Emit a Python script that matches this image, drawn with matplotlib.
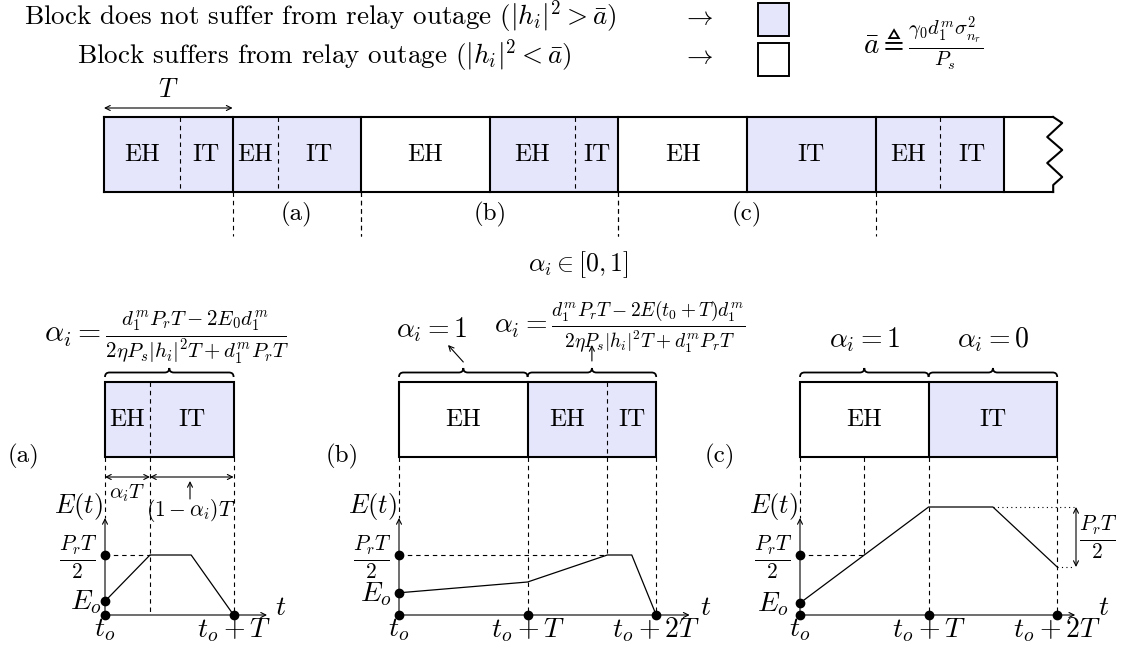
#!/usr/bin/env python3
"""EH / IT block timeline with three energy-evolution cases (a), (b), (c)."""
import matplotlib
matplotlib.use("Agg")
import matplotlib.pyplot as plt
from matplotlib.patches import Rectangle, PathPatch
from matplotlib.path import Path

plt.rcParams["font.family"] = ["cmr10"]
plt.rcParams["mathtext.fontset"] = "cm"
plt.rcParams["axes.unicode_minus"] = False

BLUE = "#e5e5fb"

# top strip: EH fraction of every block and whether the block is in relay outage
TOP_ALPHA = [0.59, 0.35, 1.0, 0.66, 1.0, 0.0, 0.5]
TOP_OUTAGE = [False, False, True, False, True, False, False]
CASE_LABELS = ["(a)", "(b)", "(c)"]
CASE_START = [1, 2, 4]
CASE_LEN = [1, 2, 2]

# lower panels: blocks, then energy curves (t in T, E in units of P_r T / 2)
PANEL_ALPHA = [[0.35], [1.0, 0.62], [1.0, 0.0]]
PANEL_OUTAGE = [[False], [True, False], [True, False]]
CURVE_T = [[0, 0.35, 0.67, 1.0], [0, 1.0, 1.62, 1.81, 2.0], [0, 1.0, 1.5, 2.0]]
CURVE_E = [[0.23, 1.0, 1.0, 0.0], [0.37, 0.55, 1.0, 1.0, 0.0], [0.2, 1.8, 1.8, 0.8]]
HALF_HIT_T = [0.35, 1.62, 0.5]          # where E(t) first reaches P_r T / 2
GUIDES = [[(0.35, 0.0), (1.0, 0.0)],
          [(1.0, 0.0), (1.62, 1.0), (2.0, 0.0)],
          [(0.5, 1.0), (1.0, 0.0), (2.0, 0.0)]]
AXIS_END = [1.26, 2.26, 2.14]
T_LABEL_DX = [14, 16, 28]
EO_LABEL_DX = [-19, -23, -27]

# layout (pixels)
T_PX = 128.6
E_PX = 60.0
TOP_X0, TOP_Y0, TOP_Y1 = 104, 117, 192
PAN_X0 = [105, 399, 800]
PAN_Y0, PAN_Y1 = 382, 457
AX_Y = 615
AX_TOP = 518

fig = plt.figure(figsize=(11.23, 6.49), dpi=100)
ax = fig.add_axes([0, 0, 1, 1])
ax.set_xlim(0, 1123)
ax.set_ylim(649, 0)
ax.axis("off")

DASH = (0, (4, 3.5))


def block_row(x0, y0, y1, alphas, outages, fs):
    for i, (a, out) in enumerate(zip(alphas, outages)):
        x = x0 + i * T_PX
        ax.add_patch(Rectangle((x, y0), T_PX, y1 - y0, fc="white" if out else BLUE,
                               ec="none", zorder=1))
        xs = x + a * T_PX
        if 0 < a < 1:
            ax.plot([xs, xs], [y0, y1], color="k", lw=0.8, ls=DASH, zorder=2)
        ym = (y0 + y1) / 2
        if a > 0:
            ax.text((x + xs) / 2, ym, "EH", ha="center", va="center", fontsize=fs)
        if a < 1:
            ax.text((xs + x + T_PX) / 2, ym, "IT", ha="center", va="center", fontsize=fs)


def brace(x0, x1, yb, amp=4.5):
    xm = (x0 + x1) / 2
    verts = [(x0, yb), (x0, yb - amp), (x0 + amp, yb - amp), (xm - amp, yb - amp),
             (xm, yb - amp), (xm, yb - 2 * amp), (xm, yb - amp), (xm + amp, yb - amp),
             (x1 - amp, yb - amp), (x1, yb - amp), (x1, yb)]
    codes = [Path.MOVETO, Path.CURVE3, Path.CURVE3, Path.LINETO, Path.CURVE3, Path.CURVE3,
             Path.CURVE3, Path.CURVE3, Path.LINETO, Path.CURVE3, Path.CURVE3]
    ax.add_patch(PathPatch(Path(verts, codes), fc="none", ec="k", lw=1.3))


def arrow(p0, p1, style="->", lw=0.8, color="k"):
    ax.annotate("", xy=p1, xytext=p0,
                arrowprops=dict(arrowstyle=style, lw=lw, color=color,
                                shrinkA=0, shrinkB=0, mutation_scale=9))


# ---- legend ----
ax.text(320, 17, r"Block does not suffer from relay outage ($|h_i|^2 > \bar{a}$)",
        ha="center", va="center", fontsize=19.5)
ax.text(324, 56, r"Block suffers from relay outage ($|h_i|^2 < \bar{a}$)",
        ha="center", va="center", fontsize=19.5)
ax.text(698, 17, r"$\rightarrow$", ha="center", va="center", fontsize=19)
ax.text(698, 56, r"$\rightarrow$", ha="center", va="center", fontsize=19)
ax.add_patch(Rectangle((758, 3), 31, 33, fc=BLUE, ec="k", lw=1.4))
ax.add_patch(Rectangle((758, 43), 31, 33, fc="white", ec="k", lw=1.4))
ax.text(923, 44, r"$\bar{a} \triangleq \frac{\gamma_0 d_1^m \sigma_{n_r}^2}{P_s}$",
        ha="center", va="center", fontsize=21)

# ---- top strip ----
block_row(TOP_X0, TOP_Y0, TOP_Y1, TOP_ALPHA, TOP_OUTAGE, 18)
n = len(TOP_ALPHA)
x_end = TOP_X0 + n * T_PX
x_zig = x_end + 49
for y in (TOP_Y0, TOP_Y1):
    ax.plot([TOP_X0, x_zig], [y, y], color="k", lw=1.5, zorder=3)
for i in range(n + 1):
    xb = TOP_X0 + i * T_PX
    ax.plot([xb, xb], [TOP_Y0, TOP_Y1], color="k", lw=1.5, zorder=3)
zx = [0, 9, -6, 9, -6, 9, 0, 0]
zy = [0, 6, 20, 33, 46, 60, 68, 75]
ax.plot([x_zig + d for d in zx], [TOP_Y0 + d for d in zy], color="k", lw=1.5, zorder=3)
arrow((TOP_X0, 108), (TOP_X0 + T_PX, 108), "<->")
ax.text(TOP_X0 + T_PX / 2, 90, r"$T$", ha="center", va="center", fontsize=19)
for lab, s, ln in zip(CASE_LABELS, CASE_START, CASE_LEN):
    xa = TOP_X0 + s * T_PX
    xb = xa + ln * T_PX
    for xv in (xa, xb):
        ax.plot([xv, xv], [TOP_Y1, 236], color="k", lw=0.8, ls=DASH)
    ax.text((xa + xb) / 2, 214, lab, ha="center", va="center", fontsize=18)
ax.text(578, 265, r"$\alpha_i \in [0,1]$", ha="center", va="center", fontsize=18.5)

# ---- lower panels ----
for k in range(3):
    x0 = PAN_X0[k]
    nb = len(PANEL_ALPHA[k])
    block_row(x0, PAN_Y0, PAN_Y1, PANEL_ALPHA[k], PANEL_OUTAGE[k], 18)
    ax.add_patch(Rectangle((x0, PAN_Y0), nb * T_PX, PAN_Y1 - PAN_Y0, fc="none",
                           ec="k", lw=1.5, zorder=3))
    for i in range(1, nb):
        xb = x0 + i * T_PX
        ax.plot([xb, xb], [PAN_Y0, PAN_Y1], color="k", lw=1.5, zorder=3)
    for i in range(nb):
        brace(x0 + i * T_PX, x0 + (i + 1) * T_PX, 377)

    def px(t, x0=x0):
        return x0 + t * T_PX

    def py(e):
        return AX_Y - e * E_PX

    # guides
    ax.plot([x0, x0], [PAN_Y1, AX_TOP], color="k", lw=0.8, ls=DASH)
    for t, e in GUIDES[k]:
        ax.plot([px(t), px(t)], [PAN_Y1, py(e)], color="k", lw=0.8, ls=DASH)
    ax.plot([x0, px(HALF_HIT_T[k])], [py(1), py(1)], color="k", lw=0.8, ls=DASH)

    # axes
    arrow((x0, AX_Y), (x0, AX_TOP))
    arrow((x0, AX_Y), (px(AXIS_END[k]), AX_Y))
    ax.plot([px(t) for t in CURVE_T[k]], [py(e) for e in CURVE_E[k]], color="k", lw=0.9)

    dots_x = [x0, x0, x0] + [px(t) for t in range(1, nb + 1)]
    dots_y = [py(1), py(CURVE_E[k][0]), AX_Y] + [AX_Y] * nb
    ax.plot(dots_x, dots_y, "o", color="k", ms=6, zorder=4)

    ax.text(x0 - 27, 507, r"$E(t)$", ha="center", va="center", fontsize=19)
    ax.text(x0 - 27, 557, r"$\frac{P_rT}{2}$", ha="center", va="center", fontsize=22)
    ax.text(x0 + EO_LABEL_DX[k], py(CURVE_E[k][0]) + 1, r"$E_o$", ha="center",
            va="center", fontsize=20)
    ax.text(x0, 630, r"$t_o$", ha="center", va="center", fontsize=20)
    ax.text(px(1), 630, r"$t_o+T$", ha="center", va="center", fontsize=20)
    if nb == 2:
        ax.text(px(2), 630, r"$t_o+2T$", ha="center", va="center", fontsize=20)
    ax.text(px(AXIS_END[k]) + T_LABEL_DX[k], 608, r"$t$", ha="center", va="center",
            fontsize=20)

ax.text(24, 456, "(a)", ha="center", va="center", fontsize=18)
ax.text(342, 456, "(b)", ha="center", va="center", fontsize=18)
ax.text(720, 456, "(c)", ha="center", va="center", fontsize=18)

# case (a) annotations
xa0 = PAN_X0[0]
xs = xa0 + PANEL_ALPHA[0][0] * T_PX
arrow((xa0, 477), (xs, 477), "<->")
arrow((xs, 477), (xa0 + T_PX, 477), "<->")
ax.text((xa0 + xs) / 2, 493, r"$\alpha_iT$", ha="center", va="center", fontsize=15)
ax.text(191, 511, r"$(1-\alpha_i)T$", ha="center", va="center", fontsize=15.5)
arrow((190, 499), (190, 481))
ax.text(167, 337,
        r"$\alpha_i = \frac{d_1^m P_r T - 2E_0 d_1^m}{2\eta P_s |h_i|^2 T + d_1^m P_r T}$",
        ha="center", va="center", fontsize=21.5)

# case (b) annotations
xb0 = PAN_X0[1]
ax.text(432, 330, r"$\alpha_i = 1$", ha="center", va="center", fontsize=20)
arrow((xb0 + 0.5 * T_PX, 362), (448, 345))
ax.text(620, 327,
        r"$\alpha_i = \frac{d_1^m P_r T - 2E(t_0+T) d_1^m}{2\eta P_s |h_i|^2 T + d_1^m P_r T}$",
        ha="center", va="center", fontsize=20)
arrow((xb0 + 1.5 * T_PX, 361), (xb0 + 1.5 * T_PX, 345))

# case (c) annotations
xc0 = PAN_X0[2]
ax.text(xc0 + 0.5 * T_PX, 340, r"$\alpha_i = 1$", ha="center", va="center", fontsize=20)
ax.text(xc0 + 1.5 * T_PX, 340, r"$\alpha_i = 0$", ha="center", va="center", fontsize=20)
y_hi = AX_Y - CURVE_E[2][2] * E_PX
y_lo = AX_Y - CURVE_E[2][3] * E_PX
ax.plot([xc0 + CURVE_T[2][2] * T_PX, 1074], [y_hi, y_hi], color="k", lw=0.8, ls=(0, (1, 3)))
ax.plot([xc0 + 2 * T_PX, 1074], [y_lo, y_lo], color="k", lw=0.8, ls=(0, (1, 3)))
arrow((1076, y_hi), (1076, y_lo), "<->")
ax.text(1098, 537, r"$\frac{P_rT}{2}$", ha="center", va="center", fontsize=22)

fig.savefig("out.png", dpi=100)
